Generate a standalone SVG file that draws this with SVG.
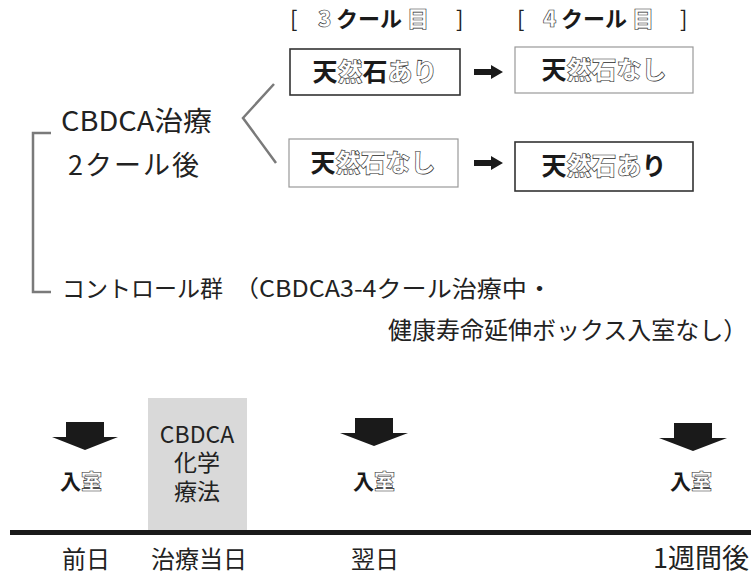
<svg xmlns="http://www.w3.org/2000/svg" width="751" height="576" viewBox="0 0 751 576">
<style>
text{font-family:"Noto Sans CJK JP","Noto Sans",sans-serif;fill:#222}
.sb{font-weight:700;fill:#1a1a1a}
.ol{font-weight:900;fill:#fff;stroke:#2a2a2a;stroke-width:0.6}
.br{font-weight:400;fill:#222}
.hd{font-size:22px}
.bx{font-size:25px}
.box-d{fill:#fff;stroke:#333;stroke-width:1.6}
.box-l{fill:#fff;stroke:#999;stroke-width:1.2}
.gline{fill:none;stroke:#7a7a7a;stroke-width:2.5}
.arr{fill:#1a1a1a}
.lbl{font-size:27px}
.ctl{font-size:23px}
.day{font-size:24px}
.chem{font-size:23px}
.ent{font-size:21px}
</style>
<rect width="751" height="576" fill="#fff"/>
<g id="header-3">
<text class="hd" y="27"><tspan class="br" x="290">[</tspan><tspan class="ol" x="318">3</tspan><tspan class="sb" x="336">クール</tspan><tspan class="ol" x="407">目</tspan><tspan class="br" x="456">]</tspan></text>
</g>
<g id="header-4">
<text class="hd" y="27"><tspan class="br" x="517">[</tspan><tspan class="ol" x="543">4</tspan><tspan class="sb" x="561">クール</tspan><tspan class="ol" x="632">目</tspan><tspan class="br" x="680">]</tspan></text>
</g>
<g id="box1">
<rect class="box-d" x="290" y="49" width="170" height="46"/>
<text class="bx" x="375" y="81" text-anchor="middle"><tspan class="sb">天</tspan><tspan class="ol">然</tspan><tspan class="sb">石</tspan><tspan class="ol">あり</tspan></text>
</g>
<g id="box2">
<rect class="box-l" x="515" y="47" width="178" height="46"/>
<text class="bx" x="604" y="79" text-anchor="middle"><tspan class="sb">天</tspan><tspan class="ol">然石なし</tspan></text>
</g>
<g id="box3">
<rect class="box-l" x="289" y="139" width="169" height="48"/>
<text class="bx" x="373" y="172" text-anchor="middle"><tspan class="sb">天</tspan><tspan class="ol">然石なし</tspan></text>
</g>
<g id="box4">
<rect class="box-d" x="515" y="142" width="178" height="49"/>
<text class="bx" x="604" y="175" text-anchor="middle"><tspan class="sb">天</tspan><tspan class="ol">然石あ</tspan><tspan class="sb">り</tspan></text>
</g>
<g id="cbdca-group">
<text class="lbl" x="61" y="131" textLength="151" lengthAdjust="spacingAndGlyphs">CBDCA治療</text>
<text class="lbl" x="68" y="175" style="letter-spacing:2px">2クール後</text>
</g>
<g id="control-group">
<text class="ctl" y="297"><tspan x="62">コントロール群</tspan><tspan x="234" textLength="318" lengthAdjust="spacingAndGlyphs">（CBDCA3-4クール治療中・</tspan></text>
<text class="ctl" x="388" y="339" style="font-size:24px">健康寿命延伸ボックス入室なし）</text>
</g>
<g id="chemo">
<rect x="148" y="398" width="99" height="133" fill="#d9d9d9"/>
<text class="chem" x="197" y="443" text-anchor="middle">CBDCA</text>
<text class="chem" x="197" y="471" text-anchor="middle">化学</text>
<text class="chem" x="197" y="500" text-anchor="middle">療法</text>
</g>
<g id="entry-1">
<text class="ent" x="81" y="489" text-anchor="middle"><tspan class="sb">入</tspan><tspan class="ol">室</tspan></text>
</g>
<g id="entry-2">
<text class="ent" x="374" y="489" text-anchor="middle"><tspan class="sb">入</tspan><tspan class="ol">室</tspan></text>
</g>
<g id="entry-3">
<text class="ent" x="691" y="489" text-anchor="middle"><tspan class="sb">入</tspan><tspan class="ol">室</tspan></text>
</g>
<g id="days">
<text class="day" x="62" y="568">前日</text>
<text class="day" x="151" y="568">治療当日</text>
<text class="day" x="351" y="568">翌日</text>
<text class="day" x="749" y="568" text-anchor="end" style="font-size:27px">1週間後</text>
</g>
<g id="connectors">
<polyline class="gline" points="274,84 243,118 276,163"/>
<polyline class="gline" points="51,133 33,133 33,292 51,292"/>
<path class="arr" d="M474,69 H491 V65 L503,72 L491,79 V75 H474 Z"/>
<path class="arr" d="M474,160 H491 V156 L503,163 L491,170 V166 H474 Z"/>
<path class="arr" d="M66,422 H104 V437 H118 L85,450 L52,437 H66 Z"/>
<path class="arr" d="M355,418 H393 V433 H408 L374,446 L340,433 H355 Z"/>
<path class="arr" d="M674,423 H712 V438 H727 L693,451 L659,438 H674 Z"/>
<rect x="10" y="530" width="741" height="5" fill="#1a1a1a"/>
</g>
</svg>
